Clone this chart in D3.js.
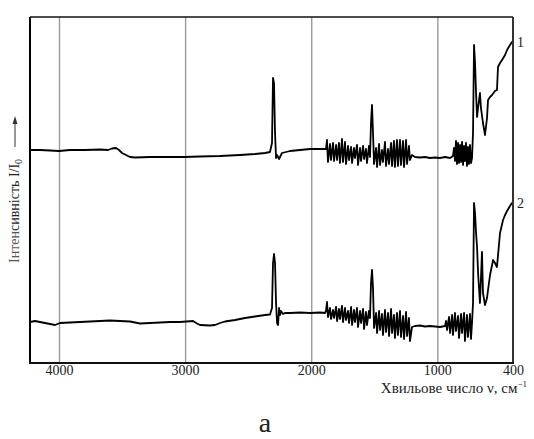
<!DOCTYPE html>
<html>
<head>
<meta charset="utf-8">
<script src="https://cdn.jsdelivr.net/npm/d3@7"></script>
<style>
  body { margin: 0; background: #fff; }
  text { font-family: "Liberation Serif", "DejaVu Serif", serif; fill: #222; }
</style>
</head>
<body>
<div id="myPlot" style="width:534px;height:439px"></div>
<script>
// Tick labels / grid positions on the wavenumber axis
const tickValues = [4000, 3000, 2000, 1000, 400];
const gridValues = [4000, 3000, 2000, 1000];

// Spectrum 1: [wavenumber cm-1, intensity (arb. units)]
const curve1 = [
  [4230, 213], [4151, 213], [4071, 212.5], [4000, 212], [3913, 213], [3794, 213], [3675, 213.5],
  [3611, 213], [3580, 214.5], [3548, 215], [3524, 213], [3500, 210], [3469, 208], [3437, 206],
  [3397, 205.5], [3278, 206], [3120, 206], [3009, 206], [2882, 206.5], [2723, 207], [2565, 208],
  [2446, 209], [2366, 210], [2327, 211], [2311, 220], [2303, 285], [2295, 280], [2287, 230],
  [2279, 205], [2271, 208], [2255, 204], [2232, 210], [2168, 212], [2089, 213], [2009, 214],
  [1930, 214], [1891, 214],
  [1883, 214], [1875, 223], [1867, 201], [1851, 219], [1843, 203], [1827, 220], [1819, 202],
  [1803, 218], [1795, 203], [1780, 220], [1772, 200], [1756, 224], [1748, 201], [1732, 221],
  [1724, 199], [1708, 217], [1700, 203], [1684, 216], [1676, 200], [1661, 215], [1653, 205],
  [1637, 218], [1629, 198], [1613, 215], [1605, 202], [1589, 217], [1581, 204], [1566, 214],
  [1558, 200], [1542, 217], [1534, 206], [1526, 240], [1518, 258], [1510, 230], [1502, 199],
  [1486, 215], [1478, 196], [1462, 219], [1454, 198], [1439, 213], [1431, 201], [1415, 221],
  [1407, 197], [1391, 214], [1383, 199], [1367, 220], [1359, 197], [1344, 222], [1336, 196],
  [1320, 223], [1312, 197], [1296, 223], [1288, 198], [1272, 222], [1264, 196], [1248, 223],
  [1240, 199], [1225, 217], [1217, 203], [1201, 208], [1177, 206], [1137, 205.5], [1098, 206],
  [1058, 205], [1018, 205.5], [979, 205], [939, 206], [899, 205], [876, 207],
  [868, 215], [860, 202], [852, 222], [844, 199], [836, 220], [828, 200], [820, 218], [812, 201],
  [804, 221], [796, 198], [788, 217], [781, 202], [773, 220], [765, 197], [757, 216], [749, 199],
  [741, 218], [733, 200], [725, 205], [717, 230], [709, 318], [701, 300], [693, 270], [685, 246],
  [677, 255], [662, 270], [654, 255], [638, 240], [622, 228], [606, 245], [598, 263], [582, 266],
  [566, 268], [543, 272], [527, 273], [519, 296], [503, 300], [487, 303], [463, 308], [447, 313],
  [424, 318], [408, 321], [400, 321]
];

// Spectrum 2
const curve2 = [
  [4230, 41], [4190, 42], [4151, 41], [4111, 40], [4071, 39], [4032, 38], [3992, 40], [3913, 40.5],
  [3834, 41], [3754, 41.5], [3675, 42], [3596, 42.5], [3516, 42], [3437, 41.5], [3358, 39.5],
  [3278, 40], [3199, 40.5], [3120, 41], [3041, 41], [2937, 42], [2906, 39.5], [2882, 38],
  [2803, 37.5], [2763, 38], [2723, 40], [2684, 41.5], [2604, 43], [2525, 45], [2446, 46.5],
  [2366, 48], [2327, 48.5], [2311, 55], [2303, 100], [2295, 109], [2287, 100], [2279, 60],
  [2271, 40], [2263, 38], [2255, 55], [2248, 48], [2240, 52], [2224, 49], [2208, 50], [2168, 50],
  [2089, 50.5], [2009, 50], [1930, 50.5], [1891, 50],
  [1883, 52], [1875, 61], [1867, 46], [1851, 55], [1843, 44], [1827, 53], [1819, 45], [1803, 56],
  [1795, 42], [1780, 54], [1772, 44], [1756, 57], [1748, 41], [1732, 55], [1724, 43], [1708, 52],
  [1700, 40], [1684, 56], [1676, 38], [1661, 53], [1653, 41], [1637, 55], [1629, 36], [1613, 52],
  [1605, 40], [1589, 54], [1581, 34], [1566, 51], [1558, 38], [1542, 52], [1534, 45], [1526, 80],
  [1518, 93], [1510, 75], [1502, 35], [1486, 50], [1478, 30], [1462, 52], [1454, 33], [1439, 49],
  [1431, 28], [1415, 53], [1407, 31], [1391, 50], [1383, 27], [1367, 54], [1359, 30], [1344, 48],
  [1336, 25], [1320, 50], [1312, 28], [1296, 52], [1288, 26], [1272, 47], [1264, 24], [1248, 51],
  [1240, 27], [1225, 45], [1217, 22], [1201, 36], [1177, 37], [1137, 37.5], [1098, 36.5],
  [1058, 37], [1018, 36.5], [979, 36], [939, 37],
  [931, 42], [923, 33], [907, 46], [899, 30], [883, 48], [876, 28], [860, 50], [852, 32],
  [836, 47], [828, 25], [812, 49], [804, 30], [788, 50], [781, 22], [765, 48], [757, 26],
  [741, 49], [733, 24], [725, 40], [717, 60], [709, 160], [701, 150], [693, 130], [685, 116],
  [677, 90], [662, 60], [654, 85], [646, 111], [638, 70], [622, 58], [606, 65], [598, 73],
  [582, 88], [558, 103], [543, 100], [527, 96], [503, 130], [479, 143], [463, 148], [447, 152],
  [424, 157], [408, 160], [400, 160]
];

const curveLabels = ["1", "2"];

// Plot box
const plotLeft = 30, plotRight = 513, plotTop = 17, plotBottom = 363;
const serif = "'Liberation Serif', 'DejaVu Serif', serif";

const svg = d3.select("#myPlot")
  .append("svg")
  .attr("width", 534)
  .attr("height", 439)
  .attr("font-family", serif);

// X Axis (wavenumber, reversed)
const x = d3.scaleLinear()
  .domain([4230, 400])
  .range([plotLeft, plotRight]);

// Y Axis (intensity, arbitrary)
const y = d3.scaleLinear()
  .domain([0, 346])
  .range([plotBottom, plotTop]);

// Grid lines
svg.append("g")
  .attr("transform", "translate(0," + plotBottom + ")")
  .call(d3.axisBottom(x).tickValues(gridValues).tickSize(-(plotBottom - plotTop)).tickFormat(""))
  .call(g => g.select(".domain").remove())
  .call(g => g.selectAll("line").attr("stroke", "#9a9a9a").attr("stroke-width", 1.4));

// Tick labels
svg.append("g")
  .attr("transform", "translate(0," + plotBottom + ")")
  .call(d3.axisBottom(x).tickValues(tickValues).tickSize(0).tickPadding(2).tickFormat(d3.format("d")))
  .attr("font-family", serif)
  .attr("font-size", 14)
  .call(g => g.select(".domain").remove())
  .call(g => g.selectAll("text").attr("fill", "#222"));

// Curves
svg.append("clipPath").attr("id", "clip")
  .append("rect")
  .attr("x", plotLeft).attr("y", plotTop)
  .attr("width", plotRight - plotLeft).attr("height", plotBottom - plotTop);

const line = d3.line()
  .x(function (d) { return x(d[0]); })
  .y(function (d) { return y(d[1]); });

svg.append("g")
  .attr("clip-path", "url(#clip)")
  .selectAll("path")
  .data([curve1, curve2]).enter()
  .append("path")
  .attr("d", line)
  .attr("fill", "none")
  .attr("stroke", "#000")
  .attr("stroke-width", 1.8)
  .attr("stroke-linejoin", "round");

// Frame
svg.append("line").attr("x1", plotLeft).attr("x2", plotRight).attr("y1", plotTop).attr("y2", plotTop)
  .attr("stroke", "#111").attr("stroke-width", 1.5);
svg.append("line").attr("x1", plotLeft).attr("x2", plotLeft).attr("y1", plotTop).attr("y2", plotBottom + 1)
  .attr("stroke", "#000").attr("stroke-width", 2);
svg.append("line").attr("x1", plotRight).attr("x2", plotRight).attr("y1", plotTop).attr("y2", plotBottom + 1)
  .attr("stroke", "#333").attr("stroke-width", 2);
svg.append("line").attr("x1", plotLeft - 1).attr("x2", plotRight + 1).attr("y1", plotBottom).attr("y2", plotBottom)
  .attr("stroke", "#111").attr("stroke-width", 2);

// Curve numbers at the right end
svg.selectAll(".clabel")
  .data([curve1, curve2]).enter()
  .append("text")
  .attr("class", "clabel")
  .attr("x", plotRight + 4)
  .attr("y", function (d) { return y(d[d.length - 1][1]) + 5; })
  .style("font-size", "14px")
  .text(function (d, i) { return curveLabels[i]; });

// X axis title
const xt = svg.append("text")
  .attr("x", 527)
  .attr("y", 393)
  .attr("text-anchor", "end")
  .style("font-size", "15px");
xt.append("tspan").text("Хвильове число ν, см");
xt.append("tspan").attr("dy", -6).style("font-size", "9px").text("−1");

// Y axis title with arrow
const yt = svg.append("text")
  .attr("transform", "translate(19,263) rotate(-90)")
  .style("font-size", "14px");
yt.append("tspan").attr("fill", "#555").text("Інтен");
yt.append("tspan").text("сивність I/I");
yt.append("tspan").attr("dy", 3).style("font-size", "10px").text("0");

svg.append("line")
  .attr("x1", 15).attr("x2", 15).attr("y1", 147).attr("y2", 121)
  .attr("stroke", "#333").attr("stroke-width", 1);
svg.append("path")
  .attr("d", "M15,116 L12.5,124 L17.5,124 Z")
  .attr("fill", "#333");

// Panel label
svg.append("text")
  .attr("x", 265)
  .attr("y", 432)
  .attr("text-anchor", "middle")
  .style("font-size", "28px")
  .text("а");
</script>
</body>
</html>
